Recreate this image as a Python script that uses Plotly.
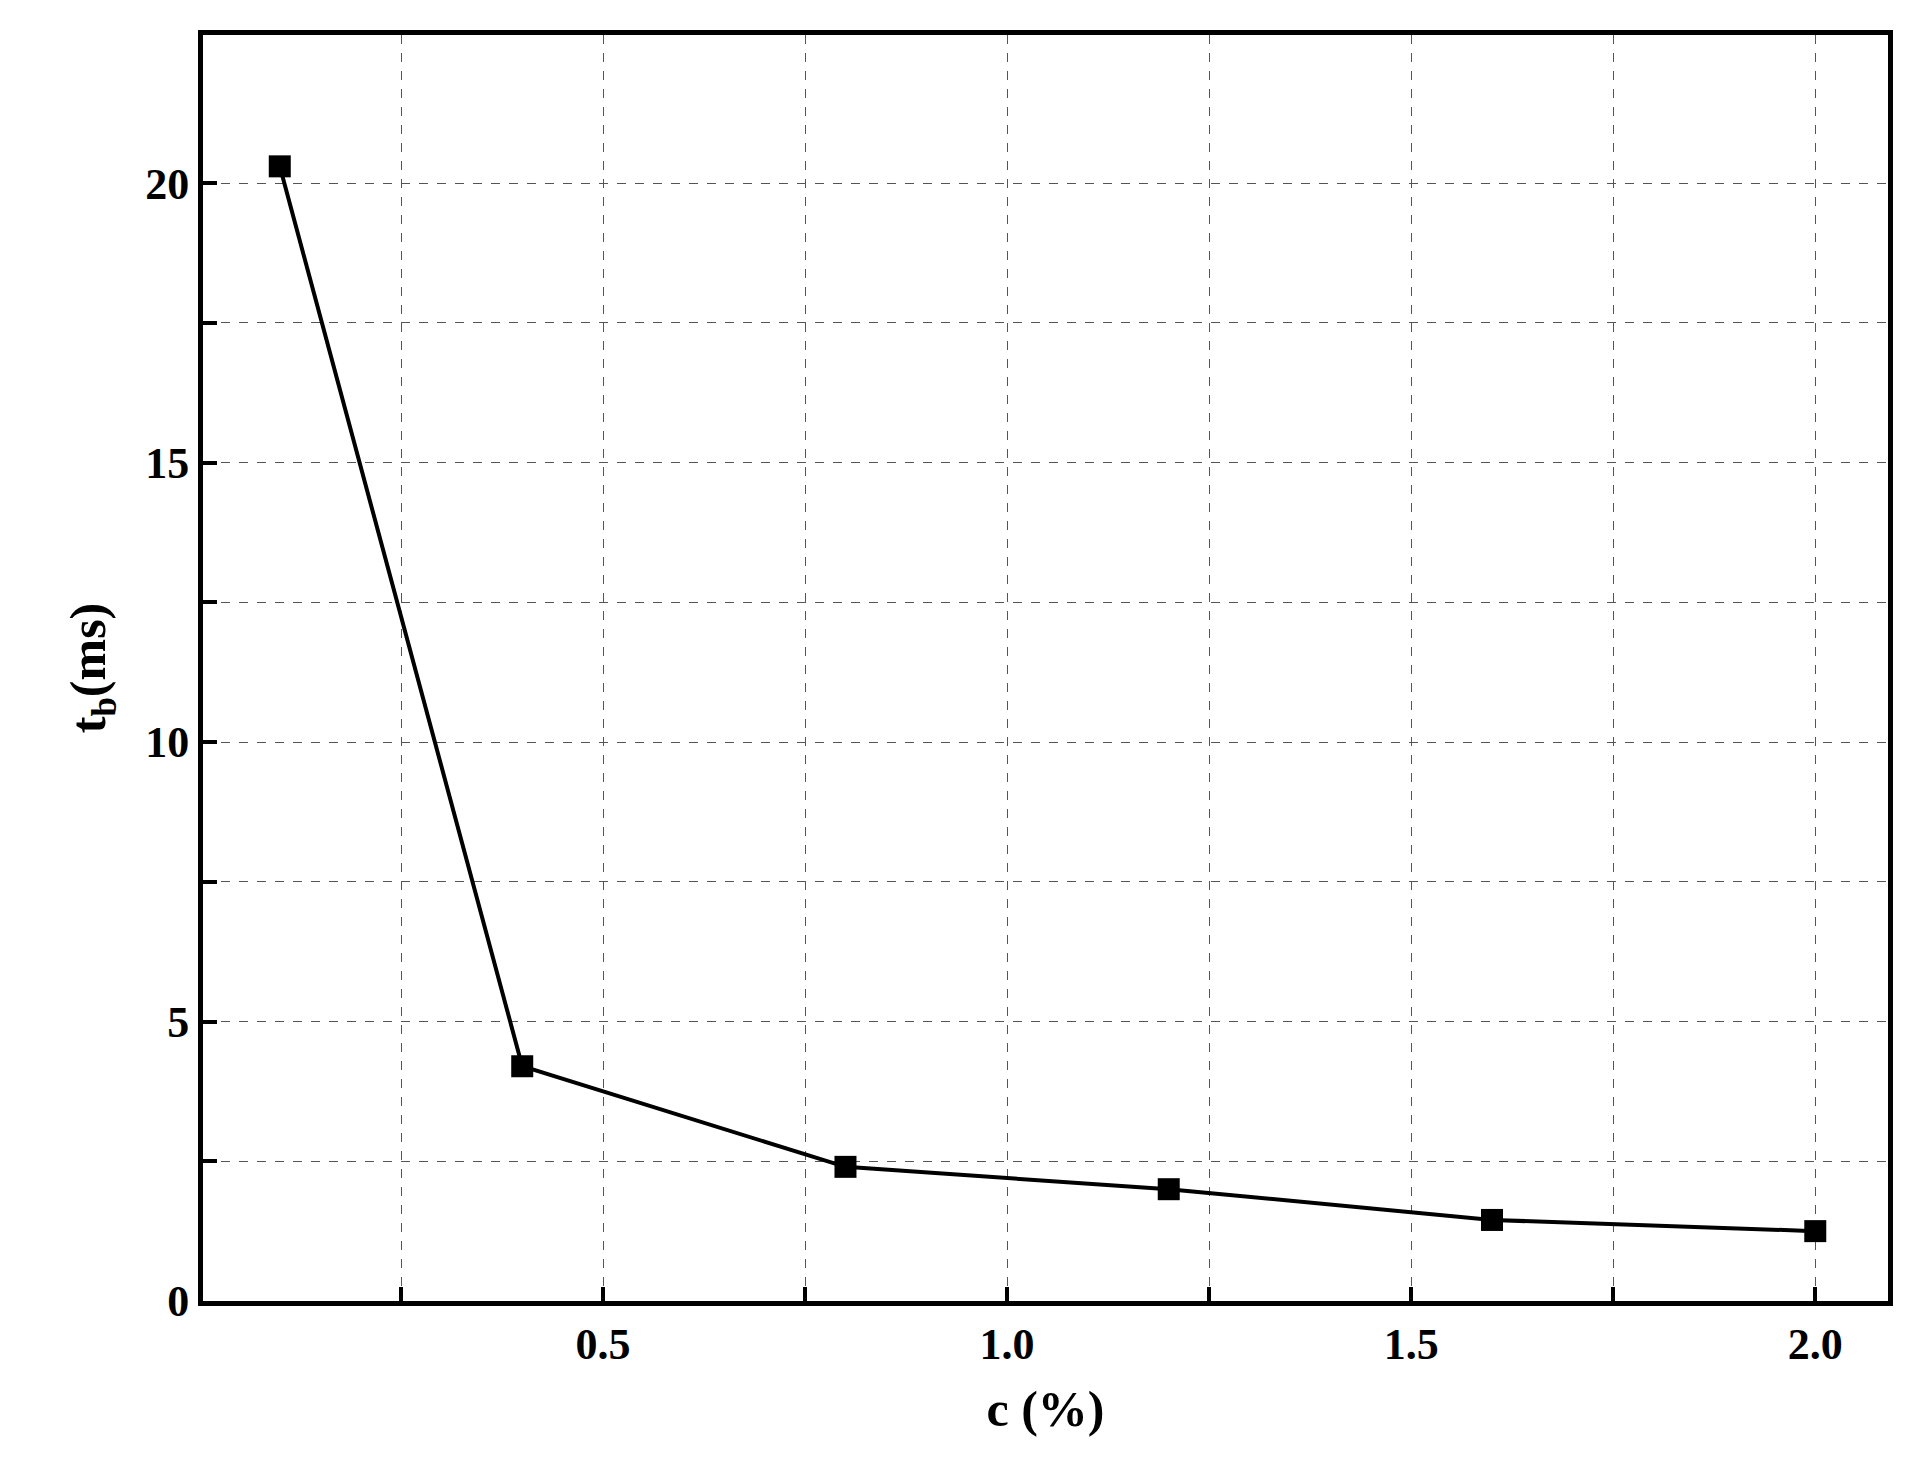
import plotly.graph_objects as go

c_pct = [0.1, 0.4, 0.8, 1.2, 1.6, 2.0]
tb_ms = [20.3, 4.2, 2.4, 2.0, 1.45, 1.25]
x_ticks = [0.25, 0.5, 0.75, 1.0, 1.25, 1.5, 1.75, 2.0]
x_labels = ['', '<b>0.5</b>', '', '<b>1.0</b>', '', '<b>1.5</b>', '', '<b>2.0</b>']
y_ticks = [0, 2.5, 5, 7.5, 10, 12.5, 15, 17.5, 20]
y_labels = ['<b>0</b>', '', '<b>5</b>', '', '<b>10</b>', '', '<b>15</b>', '', '<b>20</b>']

fig = go.Figure()
fig.add_trace(go.Scatter(
    x=c_pct, y=tb_ms, mode='lines+markers',
    line=dict(color='black', width=4),
    marker=dict(symbol='square', size=22, color='black'),
    showlegend=False,
))

font = dict(family='Liberation Serif', size=50, color='black')
axis_common = dict(
    showline=True, linewidth=5, linecolor='black', mirror=True,
    ticks='inside', tickwidth=4, ticklen=14, tickcolor='black',
    showgrid=True, gridcolor='#555', griddash='dash', gridwidth=1,
    zeroline=False, tickfont=dict(family='Liberation Serif', size=44, color='black'),
)
fig.update_layout(
    width=1915, height=1475,
    margin=dict(l=195, r=35, t=27, b=182),
    plot_bgcolor='white', paper_bgcolor='white',
    font=font,
    xaxis=dict(axis_common, range=[0.005, 2.09], tickvals=x_ticks, ticktext=x_labels,
               title=dict(text='<b>c (%)</b>', font=font, standoff=25)),
    yaxis=dict(axis_common, range=[0, 22.65], tickvals=y_ticks, ticktext=y_labels,
               title=dict(text='<b>t<sub>b</sub>(ms)</b>', font=font, standoff=25)),
)

fig.write_html('out.html')
